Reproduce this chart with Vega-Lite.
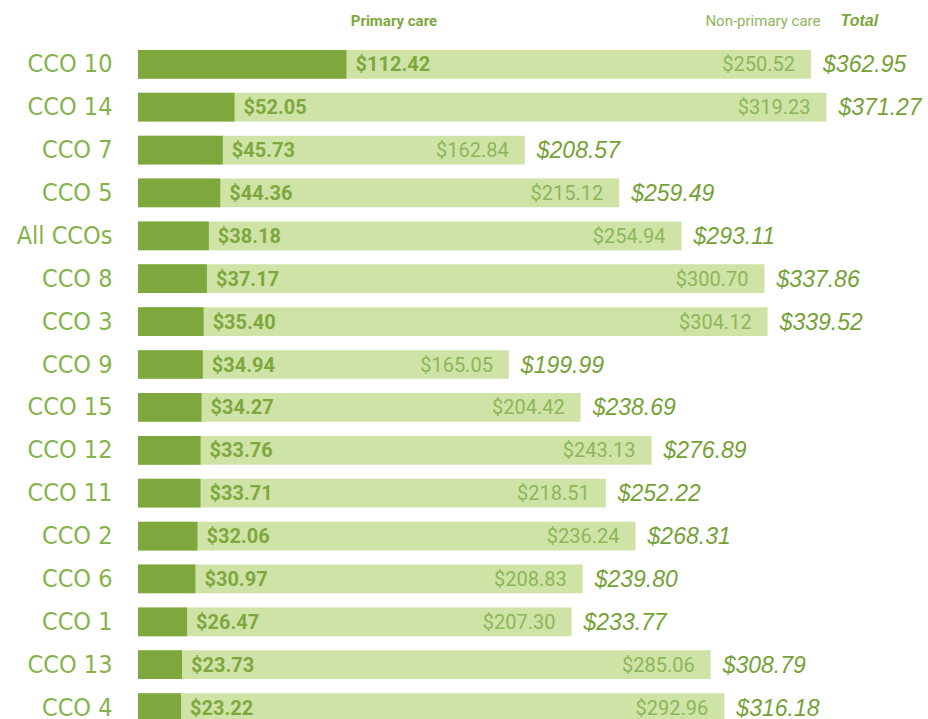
{
  "$schema": "https://vega.github.io/schema/vega-lite/v6.json",
  "autosize": {"type": "none"},
  "padding": {"left": 138, "top": 7, "right": 0, "bottom": 0},
  "width": 790,
  "height": 715,
  "background": "white",
  "config": {"view": {"stroke": null}},
  "datasets": {
    "costs": [
      {"cco": "CCO 10", "primary": 112.42, "nonprimary": 250.52, "total": 362.95},
      {"cco": "CCO 14", "primary": 52.05, "nonprimary": 319.23, "total": 371.27},
      {"cco": "CCO 7", "primary": 45.73, "nonprimary": 162.84, "total": 208.57},
      {"cco": "CCO 5", "primary": 44.36, "nonprimary": 215.12, "total": 259.49},
      {"cco": "All CCOs", "primary": 38.18, "nonprimary": 254.94, "total": 293.11},
      {"cco": "CCO 8", "primary": 37.17, "nonprimary": 300.70, "total": 337.86},
      {"cco": "CCO 3", "primary": 35.40, "nonprimary": 304.12, "total": 339.52},
      {"cco": "CCO 9", "primary": 34.94, "nonprimary": 165.05, "total": 199.99},
      {"cco": "CCO 15", "primary": 34.27, "nonprimary": 204.42, "total": 238.69},
      {"cco": "CCO 12", "primary": 33.76, "nonprimary": 243.13, "total": 276.89},
      {"cco": "CCO 11", "primary": 33.71, "nonprimary": 218.51, "total": 252.22},
      {"cco": "CCO 2", "primary": 32.06, "nonprimary": 236.24, "total": 268.31},
      {"cco": "CCO 6", "primary": 30.97, "nonprimary": 208.83, "total": 239.80},
      {"cco": "CCO 1", "primary": 26.47, "nonprimary": 207.30, "total": 233.77},
      {"cco": "CCO 13", "primary": 23.73, "nonprimary": 285.06, "total": 308.79},
      {"cco": "CCO 4", "primary": 23.22, "nonprimary": 292.96, "total": 316.18}
    ],
    "headers": [
      {"cco": "hdr", "pos": 138, "label": "Primary care", "kind": "p"},
      {"cco": "hdr", "pos": 337, "label": "Non-primary care", "kind": "n"},
      {"cco": "hdr", "pos": 389, "label": "Total", "kind": "t"}
    ]
  },
  "encoding": {
    "y": {
      "field": "cco",
      "type": "nominal",
      "scale": {
        "domain": ["hdr", "CCO 10", "CCO 14", "CCO 7", "CCO 5", "All CCOs", "CCO 8", "CCO 3", "CCO 9", "CCO 15", "CCO 12", "CCO 11", "CCO 2", "CCO 6", "CCO 1", "CCO 13", "CCO 4"],
        "paddingInner": 0.33,
        "paddingOuter": 0
      },
      "axis": {
        "title": null,
        "ticks": false,
        "domain": false,
        "labelExpr": "datum.value == 'hdr' ? '' : datum.value",
        "labelFont": "'DejaVu Sans Condensed', Roboto",
        "labelFontSize": 25,
        "labelColor": "#86b24b",
        "labelPadding": 26,
        "labelLimit": 200
      }
    }
  },
  "layer": [
    {
      "data": {"name": "costs"},
      "mark": {"type": "bar", "color": "#cfe3a7"},
      "encoding": {
        "x": {"field": "total", "type": "quantitative", "scale": {"domain": [0, 426], "nice": false}, "axis": null}
      }
    },
    {
      "data": {"name": "costs"},
      "mark": {"type": "bar", "color": "#7ea83e"},
      "encoding": {
        "x": {"field": "primary", "type": "quantitative"}
      }
    },
    {
      "data": {"name": "costs"},
      "mark": {"type": "text", "align": "left", "baseline": "middle", "dx": 9, "dy": 1, "font": "Roboto", "fontSize": 20, "fontWeight": "bold", "color": "#7ea83e"},
      "encoding": {
        "x": {"field": "primary", "type": "quantitative"},
        "text": {"field": "primary", "type": "quantitative", "format": "$,.2f"}
      }
    },
    {
      "data": {"name": "costs"},
      "mark": {"type": "text", "align": "right", "baseline": "middle", "dx": -16, "dy": 1, "font": "Roboto", "fontSize": 20, "color": "#8db65a"},
      "encoding": {
        "x": {"field": "total", "type": "quantitative"},
        "text": {"field": "nonprimary", "type": "quantitative", "format": "$,.2f"}
      }
    },
    {
      "data": {"name": "costs"},
      "mark": {"type": "text", "align": "left", "baseline": "middle", "dx": 12, "dy": 1, "font": "Liberation Sans", "fontSize": 23, "fontStyle": "italic", "color": "#76a136"},
      "encoding": {
        "x": {"field": "total", "type": "quantitative"},
        "text": {"field": "total", "type": "quantitative", "format": "$,.2f"}
      }
    },
    {
      "data": {"name": "headers"},
      "transform": [{"filter": "datum.kind == 'p'"}],
      "mark": {"type": "text", "align": "center", "baseline": "middle", "font": "Roboto", "fontSize": 15, "fontWeight": "bold", "color": "#7ea83e"},
      "encoding": {
        "x": {"field": "pos", "type": "quantitative"},
        "text": {"field": "label"}
      }
    },
    {
      "data": {"name": "headers"},
      "transform": [{"filter": "datum.kind == 'n'"}],
      "mark": {"type": "text", "align": "center", "baseline": "middle", "font": "Roboto", "fontSize": 15, "color": "#8db65a"},
      "encoding": {
        "x": {"field": "pos", "type": "quantitative"},
        "text": {"field": "label"}
      }
    },
    {
      "data": {"name": "headers"},
      "transform": [{"filter": "datum.kind == 't'"}],
      "mark": {"type": "text", "align": "center", "baseline": "middle", "font": "Liberation Sans", "fontSize": 16, "fontStyle": "italic", "fontWeight": "bold", "color": "#7aa63a"},
      "encoding": {
        "x": {"field": "pos", "type": "quantitative"},
        "text": {"field": "label"}
      }
    }
  ]
}
